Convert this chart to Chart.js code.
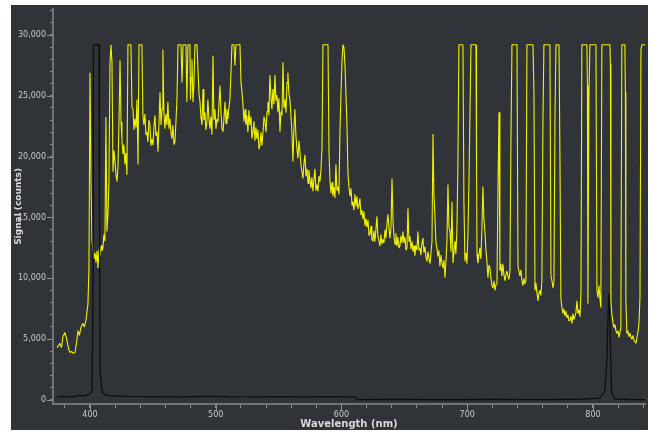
<!DOCTYPE html>
<html>
<head>
<meta charset="utf-8">
<script src="https://cdn.jsdelivr.net/npm/chart.js@4.4.0/dist/chart.umd.min.js"></script>
<style>
  html, body { margin: 0; padding: 0; background: #ffffff; }
  canvas { display: block; }
</style>
</head>
<body>
<canvas id="spectrum" width="650" height="432"></canvas>
<script>
// --- Data, [wavelength nm, counts] ---
// Yellow trace: sample spectrum, detector saturates at ~29,200 counts
const signalUv = [
  [373.8, 4300], [375.0, 4500], [376.1, 4650], [377.3, 4300], [378.5, 5200], [380.1, 5550],
  [381.7, 4900], [383.0, 4200], [384.1, 3900], [385.3, 4000], [386.5, 3850], [388.1, 3900],
  [389.3, 4700], [390.5, 5700], [391.6, 5300], [392.8, 5950], [394.4, 6300], [395.6, 6000],
  [396.8, 6550], [398.4, 7900], [399.2, 10850], [400.0, 26900], [400.8, 17950], [401.6, 13050],
  [402.4, 12500], [403.2, 11600], [404.0, 12100], [404.8, 11300], [405.6, 12250], [406.4, 10850],
  [407.2, 12400], [408.0, 11850], [408.8, 12700], [409.5, 12250], [410.3, 12500], [411.1, 13600],
  [411.9, 13050], [412.7, 23250], [413.5, 13850], [414.3, 15200], [415.1, 17950], [415.9, 27600],
  [416.7, 29200], [417.5, 27750], [418.3, 18750], [419.1, 20500], [419.9, 19600], [420.7, 18500],
  [421.5, 17950], [422.3, 19200], [423.1, 23000], [423.9, 27900], [424.7, 22850], [425.4, 21450],
  [426.2, 20200], [427.0, 21000], [427.8, 19350], [428.6, 20300], [429.4, 18500], [430.2, 29200],
  [432.6, 29200], [433.4, 24050], [434.2, 23900], [435.0, 22200], [435.8, 23100], [436.6, 22400],
  [437.4, 24700], [438.2, 19350], [439.0, 29200], [441.3, 29200], [442.1, 23400], [442.9, 22600],
  [443.7, 23500], [444.5, 21800], [445.3, 22050], [446.1, 21200], [446.9, 23000], [447.7, 22600],
  [448.5, 20900], [449.3, 21450], [450.1, 20950]
];
const signalVisible = [
  [450.9, 22500], [451.7, 23400], [452.5, 21700], [453.3, 22050], [454.1, 20400], [454.9, 22800],
  [455.7, 25300], [456.5, 22600], [457.3, 23900], [458.0, 28800], [458.8, 23600], [459.6, 22300],
  [460.4, 23500], [461.2, 22600], [462.0, 24500], [462.8, 22300], [463.6, 23100], [464.4, 22000],
  [465.2, 21450], [466.0, 22600], [466.8, 21000], [467.6, 21200], [468.4, 22900], [469.2, 24700],
  [470.0, 29200], [472.4, 29200], [473.2, 26100], [474.0, 29200], [476.3, 29200], [477.1, 24500],
  [477.9, 29200], [479.5, 29200], [479.9, 24700], [480.5, 26500], [481.1, 28000], [481.9, 24500],
  [482.7, 26000], [483.5, 29200], [485.1, 29200], [485.9, 27150], [486.7, 25200], [487.5, 24500],
  [488.3, 23200], [489.1, 22600], [489.9, 25550], [490.6, 23000], [491.4, 23650], [492.2, 22200],
  [493.0, 22850], [493.8, 24700], [494.6, 23100], [495.4, 22300], [496.2, 23300], [497.0, 21800],
  [497.8, 28300], [498.6, 23000], [499.4, 23900], [500.2, 22300], [501.0, 23100], [501.8, 22850],
  [502.6, 24400], [503.4, 25850], [504.2, 23600], [505.0, 22300], [505.8, 22050], [506.6, 23200],
  [507.4, 24500], [508.2, 22700], [508.9, 23900], [509.7, 23100], [510.5, 24000], [511.3, 24700],
  [512.1, 26800], [512.9, 29200], [514.5, 29200], [515.3, 27500], [516.1, 29200], [519.3, 29200],
  [520.1, 26100], [520.9, 25300], [521.7, 24250], [522.5, 22900], [523.3, 23900], [524.0, 22600],
  [524.8, 23400], [525.6, 22000], [526.4, 23800], [527.2, 22600], [528.0, 23300], [528.8, 21500],
  [529.6, 22050], [530.4, 22900], [531.2, 21300], [532.0, 22400], [532.8, 21450], [533.6, 22200],
  [534.4, 20600], [535.2, 20950], [536.0, 22000], [536.8, 20900], [537.6, 22050], [538.4, 23300],
  [539.2, 22850], [540.0, 22000], [540.8, 23700], [541.5, 24500], [542.3, 23400], [543.1, 26700],
  [543.9, 25000], [544.7, 23900], [545.5, 25550], [546.3, 24300], [547.1, 26700], [547.9, 24600],
  [548.7, 25050], [549.5, 23650], [550.3, 24800], [551.1, 22050], [551.9, 23700], [552.7, 23400],
  [553.5, 27750], [554.3, 24000], [555.1, 24700], [555.9, 23600], [556.7, 26100], [557.4, 26900],
  [558.2, 25200], [559.0, 24700], [559.8, 23400], [560.6, 22050], [561.4, 19600], [562.2, 22300],
  [563.0, 23900], [563.8, 21700], [564.6, 20650], [565.4, 19850], [566.2, 21300], [567.0, 20400],
  [567.8, 19300], [568.6, 18750], [569.4, 18200], [570.2, 19500], [571.0, 20150], [571.8, 18400],
  [572.6, 19000], [573.4, 17800], [574.1, 18900], [574.9, 18200], [575.7, 17400], [576.5, 18300],
  [577.3, 17150], [578.1, 18100], [578.9, 19000], [579.7, 17200], [580.5, 17700], [581.3, 17150],
  [582.1, 18400], [582.9, 17950], [583.7, 18900], [584.5, 20650], [585.3, 29200], [589.3, 29200],
  [590.1, 20400], [590.9, 17950], [591.7, 17000], [592.5, 17900], [593.2, 16750], [594.0, 17500],
  [594.8, 16600], [595.6, 19350], [596.4, 17200], [597.2, 17550], [598.0, 16900], [598.8, 22050],
  [599.6, 25000], [600.4, 27750], [601.2, 29200], [602.0, 28950], [602.8, 27500], [603.6, 25000],
  [604.4, 22600], [605.2, 18500]
];
const signalRed = [
  [606.0, 17500], [606.8, 16750], [607.6, 17400], [608.4, 16000], [609.1, 16300], [609.9, 15600],
  [610.7, 16900], [611.5, 15900], [612.3, 16750], [613.1, 15700], [613.9, 16000], [614.7, 16550],
  [615.5, 15200], [616.3, 15600], [617.1, 14850], [617.9, 15500], [618.7, 14300], [619.5, 14900],
  [620.3, 14200], [621.1, 14800], [621.9, 13500], [622.7, 13650], [623.5, 14300], [624.2, 13200],
  [625.0, 13050], [625.8, 13900], [626.6, 13000], [627.4, 14000], [628.2, 15100], [629.0, 13400],
  [629.8, 13100], [630.6, 12650], [631.4, 13600], [632.2, 12800], [633.0, 13200], [633.8, 12900],
  [634.6, 14000], [635.4, 13300], [636.2, 14500], [637.0, 15250], [637.8, 14100], [638.6, 13300],
  [639.4, 14200], [640.2, 18200], [641.0, 14700], [641.8, 13400], [642.6, 12800], [643.3, 13700],
  [644.1, 12650], [644.9, 13400], [645.7, 12500], [646.5, 12650], [647.3, 13500], [648.1, 12900],
  [648.9, 13850], [649.7, 12900], [650.5, 13400], [651.3, 12300], [652.1, 12500], [652.9, 15750],
  [653.7, 13000], [654.5, 13450], [655.3, 12400], [656.1, 13050], [656.9, 12200], [657.7, 12700],
  [658.4, 11850], [659.2, 12700], [660.0, 12300], [660.8, 13850], [661.6, 12300], [662.4, 12500],
  [663.2, 11900], [664.0, 12900], [664.8, 13300], [665.6, 12100], [666.4, 12600], [667.2, 11700],
  [668.0, 11400], [668.8, 12200], [669.6, 11600], [670.4, 11200], [671.2, 12100], [672.0, 13050],
  [672.8, 21850], [673.5, 17000], [674.3, 15250], [675.1, 13000], [675.9, 12500], [676.7, 11800],
  [677.5, 12300], [678.3, 11000], [679.1, 11900], [679.9, 11300], [680.7, 10850], [681.5, 11500],
  [682.3, 10050], [683.1, 11400], [683.9, 13050], [684.7, 17700], [685.5, 14200], [686.3, 13850],
  [687.1, 12200], [687.9, 16300], [688.7, 11250], [689.5, 12200], [690.3, 13050], [691.0, 12000],
  [691.8, 13850], [692.6, 19200], [693.4, 29200], [696.6, 29200], [697.4, 16300], [698.2, 11400],
  [699.0, 12100], [699.8, 11200], [700.6, 13650], [701.4, 17950], [703.0, 29200], [707.0, 29200],
  [707.4, 19850], [707.8, 12000], [708.5, 11250], [709.3, 11900], [710.1, 12500], [710.9, 11600],
  [711.7, 14100], [712.5, 17550], [713.3, 14800], [714.1, 13850], [714.9, 12300], [715.7, 11400],
  [716.5, 10050], [717.3, 11100], [718.1, 10850], [718.9, 10000], [719.7, 9400], [720.5, 9200],
  [721.3, 9800], [722.1, 9000], [722.9, 9500], [723.7, 9550], [724.5, 17700], [725.3, 23650],
  [726.0, 10600], [726.8, 11200], [727.6, 10200], [728.4, 11200], [729.2, 10300], [730.0, 9800],
  [730.8, 10300], [731.6, 10600], [732.4, 10200], [733.2, 9900], [734.0, 10600], [734.8, 21400]
];
const signalNir = [
  [735.6, 29200], [739.6, 29200], [740.4, 11000], [741.1, 10600], [741.9, 10200], [742.7, 10700],
  [743.5, 9800], [744.3, 9400], [745.1, 10000], [745.9, 9550], [746.7, 9800], [747.5, 29200],
  [752.3, 29200], [753.1, 25300], [753.9, 9000], [754.7, 9600], [755.5, 8750], [756.3, 8150],
  [757.0, 8800], [757.8, 9000], [758.6, 8600], [759.4, 9800], [760.2, 22450], [761.0, 29200],
  [765.8, 29200], [766.6, 10200], [767.4, 9800], [768.2, 9200], [769.0, 9700], [769.8, 23250],
  [770.6, 29200], [773.0, 29200], [773.8, 19400], [774.5, 8400], [775.3, 7600], [776.1, 7100],
  [776.9, 7500], [777.7, 6900], [778.5, 7300], [779.3, 6750], [780.1, 7000], [780.9, 6500],
  [781.7, 6550], [782.5, 6900], [783.3, 6300], [784.1, 7100], [784.9, 6600], [785.7, 6850],
  [786.5, 7200], [787.3, 8150], [788.1, 7100], [788.9, 7400], [789.7, 6850], [790.5, 9000],
  [791.2, 29200], [795.2, 29200], [795.6, 25850], [796.0, 7900], [796.8, 24900], [797.6, 29200],
  [802.4, 29200], [803.2, 9000], [804.0, 8400], [804.8, 9400], [805.6, 8300], [806.3, 7600],
  [807.1, 29200], [813.5, 29200], [813.9, 27600], [814.3, 8150], [815.1, 7000], [815.9, 6400],
  [816.7, 5950], [817.5, 6200], [818.3, 5700], [819.1, 5450], [819.9, 5700], [820.7, 5150],
  [821.4, 5500], [822.2, 5950], [823.0, 29200], [825.4, 29200], [825.8, 25300], [826.2, 8150],
  [827.0, 5450], [827.8, 5700], [828.6, 5200], [829.4, 5500], [830.2, 5150], [831.0, 5000],
  [831.8, 5300], [832.6, 4900], [833.4, 4800], [834.2, 4650], [835.0, 5150], [835.8, 5600],
  [836.6, 6300], [837.4, 8400], [838.2, 28800], [839.0, 29200], [841.4, 29200]
];

// Black trace: laser reference, peaks near 405 nm and 813 nm
const laserNm = [
  373.8, 380.0, 386.0, 392.0, 396.0, 399.0, 400.0, 401.6, 402.4, 402.8,
  407.2, 407.6, 408.0, 409.5, 411.9, 415.9, 430.0, 450.0, 470.0, 490.0,
  510.0, 530.0, 550.0, 570.0, 590.0, 610.7, 612.3, 640.0, 680.0, 720.0,
  760.0, 790.0, 805.6, 809.5, 811.1, 811.9, 812.7, 813.5, 814.3, 815.0,
  817.5, 830.0, 841.4
];
const laserCounts = [
  250, 300, 250, 350, 350, 450, 500, 800, 8150, 29200,
  29200, 16300, 2450, 800, 400, 350, 300, 280, 250, 300,
  270, 260, 280, 250, 270, 250, 30, 50, 20, 40,
  30, 60, 150, 800, 3250, 6550, 8750, 6550, 2450, 550,
  80, 40, 30
];

// Axes
const xRange = [370.6, 841.4];
const yRange = [-330, 32150];
const xTicks = [380, 400, 420, 440, 460, 480, 500, 520, 540, 560, 580, 600,
                620, 640, 660, 680, 700, 720, 740, 760, 780, 800, 820, 840];
const xLabels = [400, 500, 600, 700, 800];
const yTicks = [0, 1000, 2000, 3000, 4000, 5000, 6000, 7000, 8000, 9000, 10000,
                11000, 12000, 13000, 14000, 15000, 16000, 17000, 18000, 19000, 20000,
                21000, 22000, 23000, 24000, 25000, 26000, 27000, 28000, 29000, 30000,
                31000, 32000];
const yLabels = [0, 5000, 10000, 15000, 20000, 25000, 30000];

const signalPoints = [...signalUv, ...signalVisible, ...signalRed, ...signalNir]
    .map(p => ({ x: p[0], y: p[1] }));
const laserPoints = laserNm.map((x, i) => ({ x: x, y: laserCounts[i] }));

// dark panel behind the whole chart
const panelBg = {
    id: 'panelBg',
    beforeDraw(chart) {
        const c = chart.ctx;
        c.save();
        c.fillStyle = '#303438';
        c.fillRect(11, 5, 637, 425);
        c.restore();
    }
};

// labelled ticks are a bit longer than the minor ones
const majorTicks = {
    id: 'majorTicks',
    afterDraw(chart) {
        const c = chart.ctx;
        const xs = chart.scales.x, ys = chart.scales.y;
        c.save();
        c.strokeStyle = '#8b8f93';
        c.lineWidth = 1;
        c.beginPath();
        xLabels.forEach(v => {
            const px = Math.round(xs.getPixelForValue(v)) + 0.5;
            c.moveTo(px, xs.top);
            c.lineTo(px, xs.top + 6);
        });
        yLabels.forEach(v => {
            const py = Math.round(ys.getPixelForValue(v)) + 0.5;
            c.moveTo(ys.right, py);
            c.lineTo(ys.right - 6, py);
        });
        c.stroke();
        c.restore();
    }
};

const tickFont = { family: 'DejaVu Sans', size: 8 };

new Chart(document.getElementById('spectrum').getContext('2d'), {
    type: 'line',
    data: {
        datasets: [{
            label: 'Reference',
            data: laserPoints,
            borderColor: '#0e0e0e',
            borderWidth: 1.3,
            pointRadius: 0,
            tension: 0,
            borderJoinStyle: 'bevel'
        }, {
            label: 'Signal',
            data: signalPoints,
            borderColor: '#f2f200',
            borderWidth: 1.1,
            pointRadius: 0,
            tension: 0,
            borderJoinStyle: 'bevel'
        }]
    },
    options: {
        responsive: false,
        animation: false,
        layout: { padding: { left: 11, right: 5, top: 6, bottom: 2 } },
        plugins: {
            legend: { display: false },
            tooltip: { enabled: false }
        },
        scales: {
            x: {
                type: 'linear',
                min: xRange[0],
                max: xRange[1],
                afterBuildTicks: s => { s.ticks = xTicks.map(v => ({ value: v })); },
                afterFit: s => { s.height = 26; },
                border: { display: true, color: '#6f7377', width: 2 },
                grid: { drawOnChartArea: false, tickLength: 4, tickColor: '#8b8f93' },
                ticks: {
                    autoSkip: false,
                    maxRotation: 0,
                    padding: 2,
                    color: '#c8c8c8',
                    font: tickFont,
                    callback: v => (xLabels.includes(v) ? String(v) : '')
                },
                title: {
                    display: true,
                    text: 'Wavelength (nm)',
                    color: '#d8d8d8',
                    font: { family: 'DejaVu Sans', size: 10, weight: 'bold' },
                    padding: { top: 0, bottom: 0 }
                }
            },
            y: {
                min: yRange[0],
                max: yRange[1],
                afterBuildTicks: s => { s.ticks = yTicks.map(v => ({ value: v })); },
                afterFit: s => { s.width = 42; },
                border: { display: true, color: '#6f7377', width: 2 },
                grid: { drawOnChartArea: false, tickLength: 3, tickColor: '#8b8f93' },
                ticks: {
                    autoSkip: false,
                    padding: 4,
                    color: '#c8c8c8',
                    font: tickFont,
                    callback: v => (yLabels.includes(v) ? v.toLocaleString('en-US') : '')
                },
                title: {
                    display: true,
                    text: 'Signal (counts)',
                    color: '#d8d8d8',
                    font: { family: 'DejaVu Sans', size: 9, weight: 'bold' },
                    padding: { top: 2, bottom: 0 }
                }
            }
        }
    },
    plugins: [panelBg, majorTicks]
});
</script>
</body>
</html>
